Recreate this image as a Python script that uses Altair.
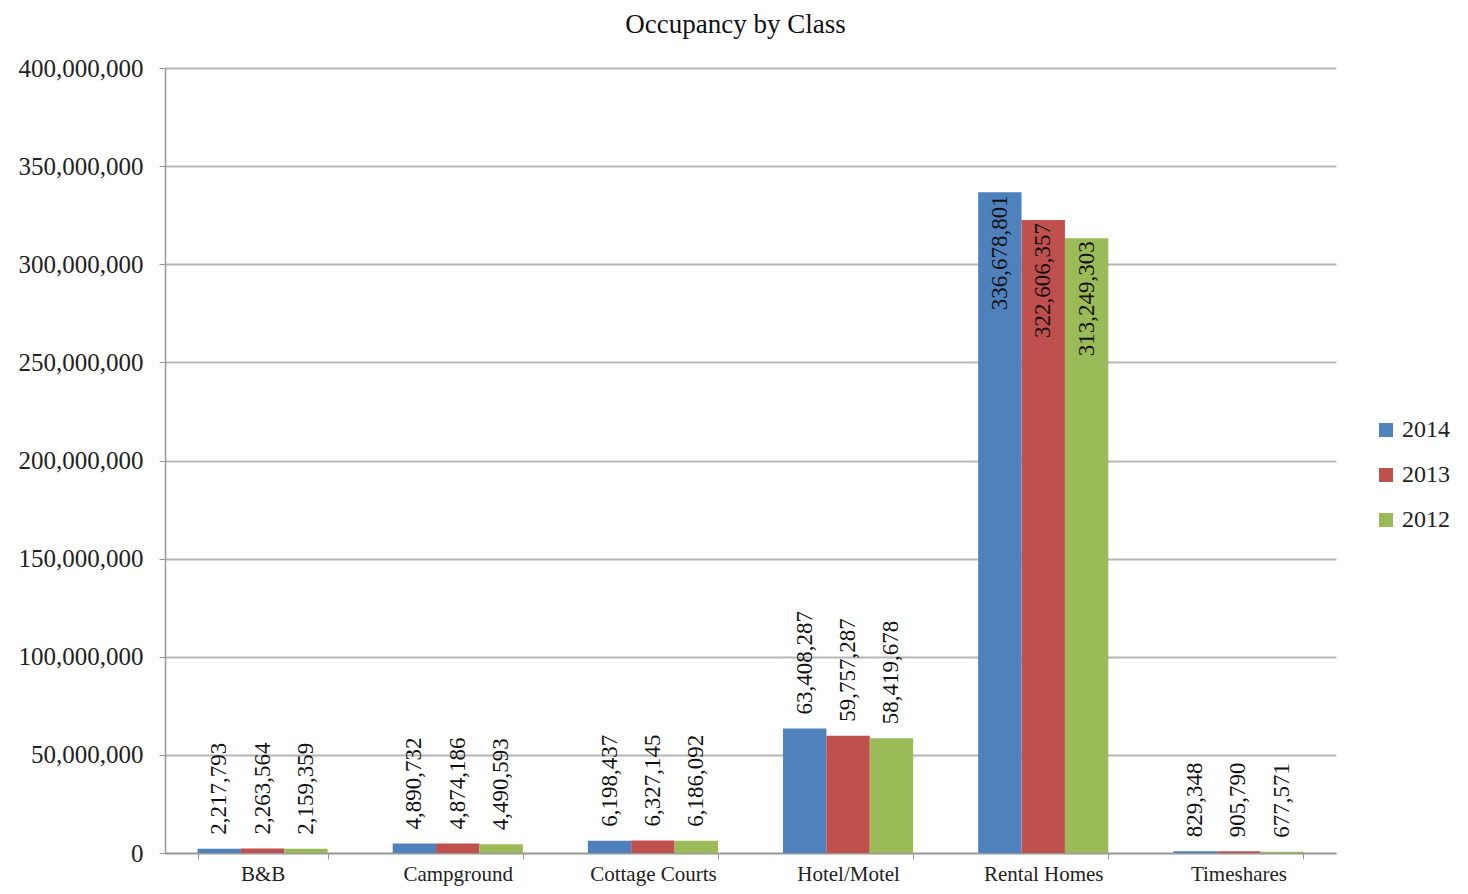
import altair as alt
import pandas as pd

categories = ["B&B", "Campground", "Cottage Courts", "Hotel/Motel", "Rental Homes", "Timeshares"]
years = ["2014", "2013", "2012"]
v2014 = [2217793, 4890732, 6198437, 63408287, 336678801, 829348]
v2013 = [2263564, 4874186, 6327145, 59757287, 322606357, 905790]
v2012 = [2159359, 4490593, 6186092, 58419678, 313249303, 677571]
colors = ["#4F81BD", "#C0504D", "#9BBB59"]
y_ticks = list(range(0, 400000001, 50000000))

rows = []
for yr, vals in zip(years, [v2014, v2013, v2012]):
    for c, v in zip(categories, vals):
        rows.append({"Class": c, "Year": yr, "value": v})
df = pd.DataFrame(rows)

FONT = "Liberation Serif"

x = alt.X("Class:N", sort=categories, title=None,
          scale=alt.Scale(paddingInner=0.3333, paddingOuter=0.1667),
          axis=alt.Axis(labelAngle=0, labelFontSize=21, labelColor="#222", labelFont=FONT,
                        tickBand="extent", tickSize=6, tickColor="#999",
                        domainColor="#999", domainWidth=1.5, labelPadding=4, grid=False))
xo = alt.XOffset("Year:N", sort=years, scale=alt.Scale(paddingInner=0, paddingOuter=0))
y = alt.Y("value:Q", title=None,
          scale=alt.Scale(domain=[0, 400000000], nice=False),
          axis=alt.Axis(values=y_ticks, format=",.0f", labelFontSize=25, labelColor="#222",
                        labelFont=FONT,
                        tickSize=6, tickColor="#999", domainColor="#999", domainWidth=1.5,
                        labelPadding=16, gridColor="#b5b5b5", gridWidth=2))

base = alt.Chart(df)

bars = base.mark_bar().encode(
    x=x, xOffset=xo, y=y,
    color=alt.Color("Year:N", sort=years,
                    scale=alt.Scale(domain=years, range=colors),
                    legend=alt.Legend(title=None, orient="none", legendX=1209, legendY=350,
                                      symbolType="square", symbolSize=196, labelFontSize=24,
                                      labelFont=FONT,
                                      labelColor="#222", rowPadding=21, labelOffset=4,
                                      symbolStrokeWidth=0)),
)

labels_out = base.transform_filter(alt.datum.value < 300000000).mark_text(
    angle=270, align="left", baseline="middle", dx=14, fontSize=23, font=FONT, color="#111"
).encode(x=x, xOffset=xo, y=y, text=alt.Text("value:Q", format=",.0f"))

labels_in = base.transform_filter(alt.datum.value >= 300000000).mark_text(
    angle=270, align="right", baseline="middle", dx=-3, fontSize=23, font=FONT, color="#111"
).encode(x=x, xOffset=xo, y=y, text=alt.Text("value:Q", format=",.0f"))

chart = alt.layer(bars, labels_out, labels_in).properties(
    width=1171, height=785,
    title=alt.TitleParams("Occupancy by Class", fontSize=27, font=FONT, fontWeight="normal",
                          color="#111", anchor="middle", dx=-15, offset=17),
    autosize=alt.AutoSizeParams(type="none"),
    padding={"left": 157, "top": 60, "right": 120, "bottom": 33},
).configure(font=FONT).configure_view(stroke=None)

chart.save("out.html", embed_options={"renderer": "svg", "actions": False})
